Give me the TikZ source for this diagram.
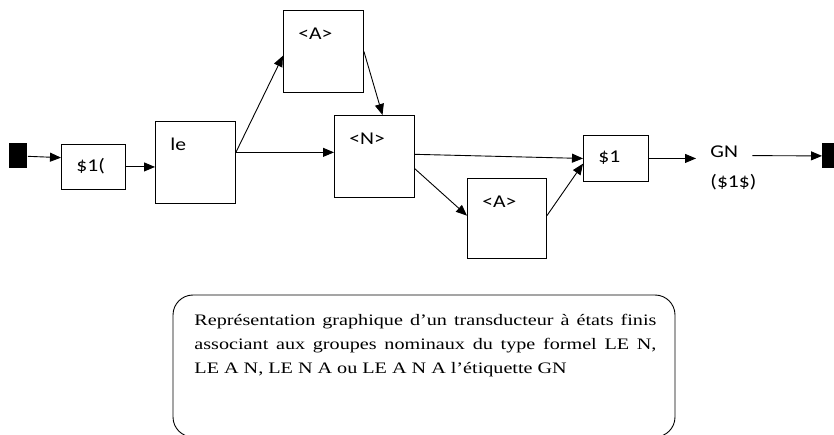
\documentclass[tikz,border=0pt]{standalone}
\usepackage{fontspec}
\newfontfamily\boxfont[FakeStretch=1.2]{Carlito}
\newfontfamily\legendfont[FakeStretch=1.26]{Liberation Serif}
\newcommand\etatfont{\boxfont\fontsize{18pt}{21pt}\selectfont}
\newcommand\legendefont{\legendfont\fontsize{16pt}{24pt}\selectfont}
\usetikzlibrary{arrows.meta,positioning}

\begin{document}
\begin{tikzpicture}[x=1pt,y=-1pt,line width=0.9pt,>={Triangle[length=11pt,width=9pt]},
  etat/.style={draw,anchor=north west,inner xsep=15pt,inner ysep=0pt,align=left,font=\etatfont},
  grand/.style={etat,text width=50pt,text height=29pt,text depth=53pt},
  petit/.style={etat,text width=#1,text height=27.5pt,text depth=17.5pt},
  borne/.style={fill=black,minimum width=18pt,minimum height=25pt,inner sep=0pt,anchor=north west}]
 \useasboundingbox (0,0) rectangle (834,435);
 \node[borne] (s_i) at (9,143) {};
 \node[petit=34pt] (s_d) at (61,144) {\$1(};
 \node[grand] (s_le) at (155,121) {le};
 \node[grand] (s_a1) at (283,10) {<A>};
 \node[grand] (s_n) at (334,115) {<N>};
 \node[grand,text width=49pt,text depth=51pt] (s_a2) at (467,178) {<A>};
 \node[petit=35pt,text depth=18.5pt] (s_1) at (583,135) {\$1};
 \node[font=\etatfont,inner xsep=14pt,inner ysep=0pt,text height=11pt,text depth=6pt,anchor=base west] (s_gn) at (696,158) {GN};
 \node[font=\etatfont,inner sep=0pt,anchor=base west] (s_sortie) at (710,188) {(\$1\$)};
 \node[borne] (s_f) at (822,143) {};
 \path[->]
 (s_i) edge (s_d.164)
 (s_d.east) edge (s_d.east -| s_le.west)
 (s_le.14) edge (s_a1.186)
 (s_le.14) edge (s_le.14 -| s_n.west)
 (s_a1.east) edge (s_n.79)
 (s_n.3) edge (s_1.west)
 (s_n.-17) edge (s_a2.176)
 (s_a2.4) edge (s_1.189)
 (s_1.east) edge (s_1.east -| s_gn.west)
 (s_gn) edge (s_f);
 % legende
 \draw[rounded corners=20pt] (173,295) rectangle (675,437);
 \node[anchor=north west,inner sep=0pt,text width=462pt,align=justify,font=\legendefont] (legende) at (194,314)
 {\noindent Représentation graphique d’un transducteur à états finis\linebreak
 associant aux groupes nominaux du type formel LE N,\linebreak
 LE A N, LE N A ou LE A N A l’étiquette GN};
\end{tikzpicture}
\end{document}
